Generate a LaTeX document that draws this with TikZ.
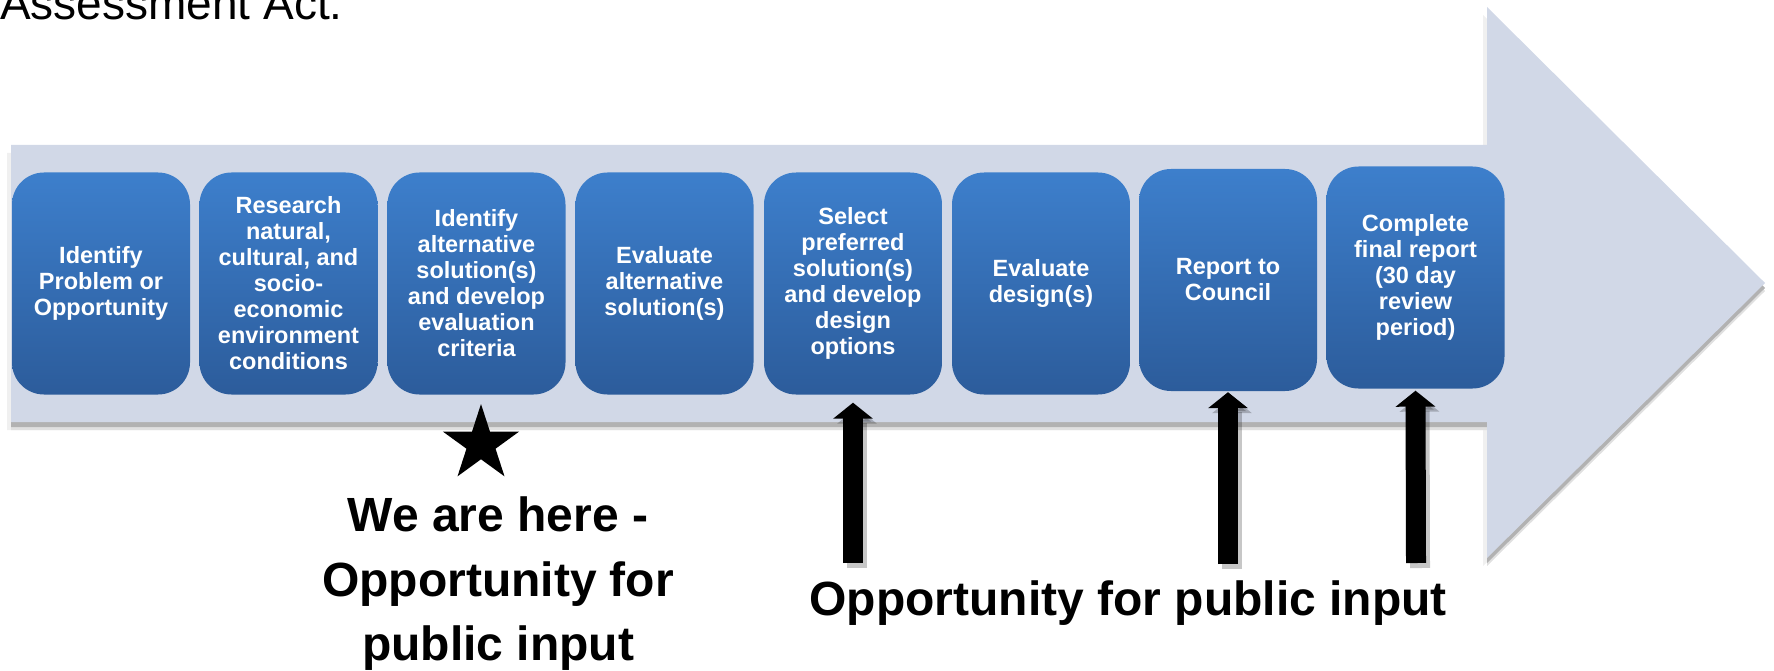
\documentclass[tikz,border=0pt]{standalone}
\usepackage{fontspec}
\setmainfont{Liberation Sans}
\usetikzlibrary{arrows.meta,shapes.geometric}
\definecolor{arrowbg}{RGB}{209,216,231}
\definecolor{boxtop}{RGB}{61,127,204}
\definecolor{boxbot}{RGB}{44,92,155}
\begin{document}
\begin{tikzpicture}[x=1pt,y=-1pt,
  stepbox/.style={rounded corners=32pt, minimum width=178pt, minimum height=222pt, inner sep=0pt,
    top color=boxtop, bottom color=boxbot, draw=none, text=white,
    font=\fontsize{23.5}{26}\selectfont\bfseries, align=center},
  pubarrow/.style={line width=20pt, -{Triangle[width=39pt,length=16pt]}, draw=black},
  pubshadow/.style={line width=20pt, -{Triangle[width=39pt,length=16pt]}, draw=black, opacity=0.22},
  biglabel/.style={font=\fontsize{48}{64.5}\selectfont\bfseries, align=center, inner sep=0pt}]
\useasboundingbox (0,0) rectangle (1774,671);
% title fragment
\node[font=\fontsize{46}{50}\selectfont, anchor=base west, inner sep=0pt] (title) at (0,20) {Assessment Act.};
% big arrow shadow layers
\fill[black!6, shift={(-4,8)}] (11,145) -- (1487,145) -- (1487,7) -- (1765,283) -- (1487,558) -- (1487,422) -- (11,422) -- cycle;
\fill[black!12, shift={(0,8)}] (11,145) -- (1487,145) -- (1487,7) -- (1765,283) -- (1487,558) -- (1487,422) -- (11,422) -- cycle;
\fill[black!30, shift={(0,5)}] (11,145) -- (1487,145) -- (1487,7) -- (1765,283) -- (1487,558) -- (1487,422) -- (11,422) -- cycle;
% big arrow
\fill[arrowbg] (11,145) -- (1487,145) -- (1487,7) -- (1765,283) -- (1487,558) -- (1487,422) -- (11,422) -- cycle;
% steps
\node[stepbox] (b1) at (101,283.5) {Identify\\Problem or\\Opportunity};
\node[stepbox] (b2) at (288.5,283.5) {Research\\natural,\\cultural, and\\socio-\\economic\\environment\\conditions};
\node[stepbox] (b3) at (476.5,283.5) {Identify\\alternative\\solution(s)\\and develop\\evaluation\\criteria};
\node[stepbox] (b4) at (664.5,283.5) {Evaluate\\alternative\\solution(s)};
\node[stepbox] (b5) at (853,283.5) {Select\\preferred\\solution(s)\\and develop\\design\\options};
\node[stepbox] (b6) at (1041,283.5) {Evaluate\\design(s)};
\node[stepbox] (b7) at (1228,280) {Report to\\Council};
\node[stepbox] (b8) at (1415.5,277.5) {Complete\\final report\\(30 day\\review\\period)};
% star marker
\node[star, star points=5, star point ratio=2.618, fill=black, draw=none, inner sep=0pt, minimum size=80pt] (here) at (481,444) {};
% input arrows
\coordinate (a5) at (853,563);
\coordinate (a7) at (1228,564);
\coordinate (a8) at (1416,563);
\draw[pubshadow] ([xshift=4pt,yshift=-5pt]a5) -- ([xshift=4pt,yshift=-13pt]b5.south);
\draw[pubshadow] ([xshift=4pt,yshift=-5pt]a7) -- ([xshift=4pt,yshift=-6pt]b7.south);
\draw[pubshadow] ([xshift=4pt,yshift=-5pt]a8) -- ([xshift=4pt,yshift=-7pt]b8.south);
\draw[pubarrow] (a5) -- ([yshift=-8pt]b5.south);
\draw[pubarrow] (a7) -- ([yshift=-1pt]b7.south);
\draw[pubarrow] (a8) -- ([yshift=-2pt]b8.south);
% labels
\node[biglabel] (herelabel) at (498,584) {We are here -\\Opportunity for\\public input};
\node[biglabel, anchor=base] (inputlabel) at (1128,615) {Opportunity for public input};
\end{tikzpicture}
\end{document}
